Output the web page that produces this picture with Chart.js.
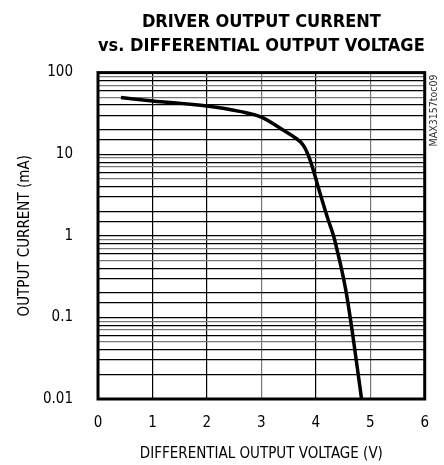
<!DOCTYPE html>
<html>
<head>
<meta charset="utf-8">
<script src="https://cdn.jsdelivr.net/npm/chart.js@4/dist/chart.umd.min.js"></script>
<style>
  html, body { margin: 0; padding: 0; background: #fff; }
  canvas { display: block; }
</style>
</head>
<body>
<canvas id="c" width="444" height="465"></canvas>
<script>
// curve (V, mA)
const voltage = [0.42, 1.0, 2.0, 2.6, 3.0, 3.43, 3.61, 3.77, 3.87, 3.95, 4.04, 4.13, 4.23, 4.33, 4.40, 4.47, 4.56, 4.68, 4.84];
const current = [49.5, 45, 39, 33.5, 28.5, 19.2, 16.1, 12.9, 9.4, 6.5, 4.05, 2.54, 1.55, 0.98, 0.63, 0.40, 0.20, 0.06, 0.01];
const xTicks = [0, 1, 2, 3, 4, 5, 6];
const yLabels = [0.01, 0.1, 1, 10, 100];

const NARROW = "'Liberation Sans Narrow', 'DejaVu Sans Condensed', 'Liberation Sans', sans-serif";

const isDecade = (v) => yLabels.some((d) => Math.abs(v - d) / d < 1e-6);

// thick frame round the plot + the part number on the right
const framePlugin = {
  id: "frame",
  afterDraw(chart) {
    const { ctx, chartArea: a } = chart;
    ctx.save();
    ctx.strokeStyle = "#000";
    ctx.lineWidth = 3;
    ctx.strokeRect(a.left, a.top, a.right - a.left, a.bottom - a.top);
    ctx.translate(a.right + 10, a.top + 2);
    ctx.rotate(-Math.PI / 2);
    ctx.font = "10.5px " + NARROW;
    ctx.fillStyle = "#333";
    ctx.textAlign = "right";
    ctx.textBaseline = "middle";
    ctx.fillText("MAX3157toc09", 0, 0);
    ctx.restore();
  },
};

new Chart(document.getElementById("c"), {
  type: "line",
  data: {
    datasets: [
      {
        data: voltage.map((v, i) => ({ x: v, y: current[i] })),
        borderColor: "#000",
        borderWidth: 3.5,
        pointRadius: 0,
        cubicInterpolationMode: "monotone",
        fill: false,
      },
    ],
  },
  options: {
    responsive: false,
    animation: false,
    layout: { padding: { top: 10, right: 19, bottom: 0, left: 0 } },
    plugins: {
      legend: { display: false },
      tooltip: { enabled: false },
      title: {
        display: true,
        fullSize: false,
        text: ["DRIVER OUTPUT CURRENT", "vs. DIFFERENTIAL OUTPUT VOLTAGE"],
        color: "#000",
        font: { family: NARROW, size: 18, weight: "bold", lineHeight: 1.35 },
        padding: { top: 0, bottom: 14 },
      },
    },
    scales: {
      x: {
        type: "linear",
        min: 0,
        max: 6,
        afterBuildTicks: (s) => { s.ticks = xTicks.map((v) => ({ value: v })); },
        afterFit: (s) => { s.height = 66; },
        grid: {
          drawTicks: false,
          lineWidth: 1.2,
          color: (c) => (c.tick && (c.tick.value === 3 || c.tick.value === 5) ? "#777" : "#000"),
        },
        border: { display: false },
        ticks: { color: "#000", padding: 15, font: { family: NARROW, size: 15 } },
        title: {
          display: true,
          text: "DIFFERENTIAL OUTPUT VOLTAGE (V)",
          color: "#000",
          font: { family: NARROW, size: 15 },
          padding: { top: 0, bottom: 2 },
        },
      },
      y: {
        type: "logarithmic",
        min: 0.01,
        max: 100,
        afterFit: (s) => { s.width = 98; },
        grid: {
          drawTicks: false,
          lineWidth: 1.2,
          color: (c) => {
            if (!c.tick) return "#000";
            const v = c.tick.value;
            if (isDecade(v)) return "#000";
            const m = Math.round(v / Math.pow(10, Math.floor(Math.log10(v) + 1e-9)));
            return m === 5 || m === 7 || m === 9 ? "#777" : "#000";
          },
        },
        border: { display: false },
        ticks: {
          autoSkip: false,
          color: "#000",
          padding: 25,
          font: { family: NARROW, size: 15 },
          callback: (v) => (isDecade(v) ? String(v) : ""),
        },
        title: {
          display: true,
          text: "OUTPUT CURRENT (mA)",
          color: "#000",
          font: { family: NARROW, size: 15 },
          padding: { top: 16, bottom: 0 },
        },
      },
    },
  },
  plugins: [framePlugin],
});
</script>
</body>
</html>
